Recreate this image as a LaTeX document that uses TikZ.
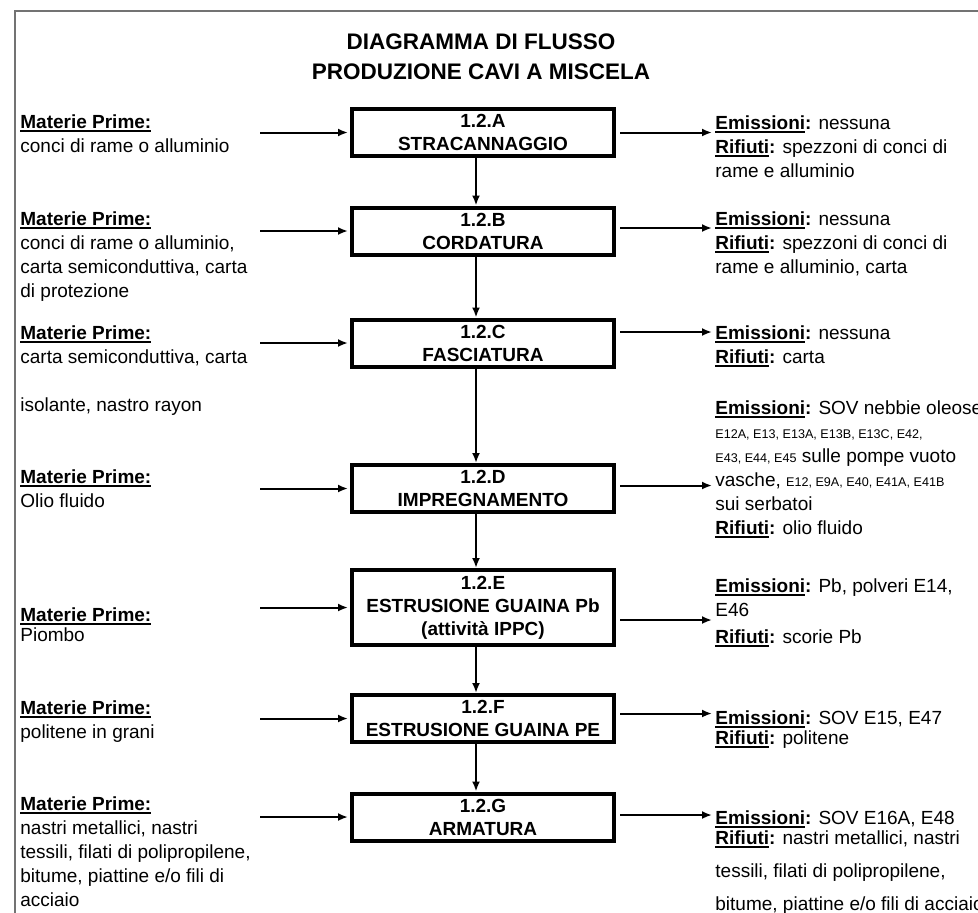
\documentclass[tikz,border=0pt]{standalone}
\usepackage{fontspec}
\setmainfont{Liberation Sans}
\usetikzlibrary{arrows.meta,positioning}

\newcommand\ulword[1]{\setbox0\hbox{#1}\rlap{\rule[-1.9pt]{\wd0}{0.75pt}}\box0}
\newcommand\matprime{\textbf{\ulword{Materie Prime:}}}
\newcommand\emis{\textbf{\ulword{Emissioni}:}}
\newcommand\rifiuti{\textbf{\ulword{Rifiuti}:}}
\newcommand\ecode[1]{{\fontsize{6.3}{12}\selectfont #1}}

\begin{document}
\begin{tikzpicture}[x=0.5pt,y=-0.5pt,
	phase/.style={rectangle,draw,line width=2pt,minimum width=131pt,minimum height=23.5pt,inner sep=0pt,align=center,font=\fontsize{9.5}{11.5}\selectfont\bfseries},
	txt/.style={anchor=north west,align=left,inner sep=0pt,font=\fontsize{9.5}{12}\selectfont},
	arr/.style={line width=1pt,-{Latex[length=5pt,width=4pt]}}]
	\useasboundingbox (0,0) rectangle (978,912);
	\draw[black!55,line width=1pt] (15,930) -- (15,11) -- (990,11);

	\node[font=\fontsize{11.25}{15}\selectfont\bfseries,align=center] (title) at (481,57) {DIAGRAMMA DI FLUSSO\\PRODUZIONE CAVI A MISCELA};

	% fasi
	\begin{scope}[every node/.style={phase}]
		\node (A) at (483,132.5) {1.2.A\\STRACANNAGGIO};
		\node (B) at (483,231) {1.2.B\\CORDATURA};
		\node (C) at (483,343) {1.2.C\\FASCIATURA};
		\node (D) at (483,488.5) {1.2.D\\IMPREGNAMENTO};
		\node[minimum height=37.5pt] (E) at (483,607.5) {1.2.E\\ESTRUSIONE GUAINA Pb\\(attività IPPC)};
		\node (F) at (483,718.5) {1.2.F\\ESTRUSIONE GUAINA PE};
		\node (G) at (483,817) {1.2.G\\ARMATURA};
	\end{scope}

	% materie prime
	\begin{scope}[every node/.style={txt}]
		\node (mA) at (20,114) {\matprime\\conci di rame o alluminio};
		\node (mB) at (20,211) {\matprime\\conci di rame o alluminio,\\carta semiconduttiva, carta\\di protezione};
		\node (mC) at (20,325) {\matprime\\carta semiconduttiva, carta\\[12pt]isolante, nastro rayon};
		\node (mD) at (20,469) {\matprime\\Olio fluido};
		\node (mE) at (20,607) {\matprime\\[-2pt]Piombo};
		\node (mF) at (20,700) {\matprime\\politene in grani};
		\node (mG) at (20,796) {\matprime\\nastri metallici, nastri\\tessili, filati di polipropilene,\\bitume, piattine e/o fili di\\acciaio};
	\end{scope}

	% emissioni e rifiuti
	\begin{scope}[every node/.style={txt}]
		\node (rA) at (715,115) {\emis{} nessuna\\\rifiuti{} spezzoni di conci di\\rame e alluminio};
		\node (rB) at (715,211) {\emis{} nessuna\\\rifiuti{} spezzoni di conci di\\rame e alluminio, carta};
		\node (rC) at (715,325) {\emis{} nessuna\\\rifiuti{} carta};
		\node (rD) at (715,400) {\emis{} SOV nebbie oleose\\\ecode{E12A, E13, E13A, E13B, E13C, E42,}\\\ecode{E43, E44, E45} sulle pompe vuoto\\vasche, \ecode{E12, E9A, E40, E41A, E41B}\\sui serbatoi\\\rifiuti{} olio fluido};
		\node (rE) at (715,578) {\emis{} Pb, polveri E14,\\E46\\[1.5pt]\rifiuti{} scorie Pb};
		\node (rF) at (715,710) {\emis{} SOV E15, E47\\[-2pt]\rifiuti{} politene};
		\node (rG) at (715,810) {\emis{} SOV E16A, E48\\[-2pt]\rifiuti{} nastri metallici, nastri\\[4.5pt]tessili, filati di polipropilene,\\[4.5pt]bitume, piattine e/o fili di acciaio};
	\end{scope}

	\begin{scope}
		\foreach \s in {A,B,C,D,E,F,G}
			\draw[arr,shorten >=1pt] ([xshift=-45pt]\s.west) -- (\s.west);
		\foreach \s/\dy in {A/0,B/1.5,C/5.5,D/1.5,E/-6.25,F/2.5,G/1}
			\draw[arr,shorten <=2pt,shorten >=1.5pt] ([yshift=\dy pt]\s.east) -- ([yshift=\dy pt]\s.east -| r\s.west);
		\foreach \s/\t in {A/B,B/C,C/D,D/E,E/F,F/G}
			\draw[arr] ([xshift=-3.5pt]\s.south) -- ([xshift=-3.5pt]\t.north);
	\end{scope}
\end{tikzpicture}
\end{document}
